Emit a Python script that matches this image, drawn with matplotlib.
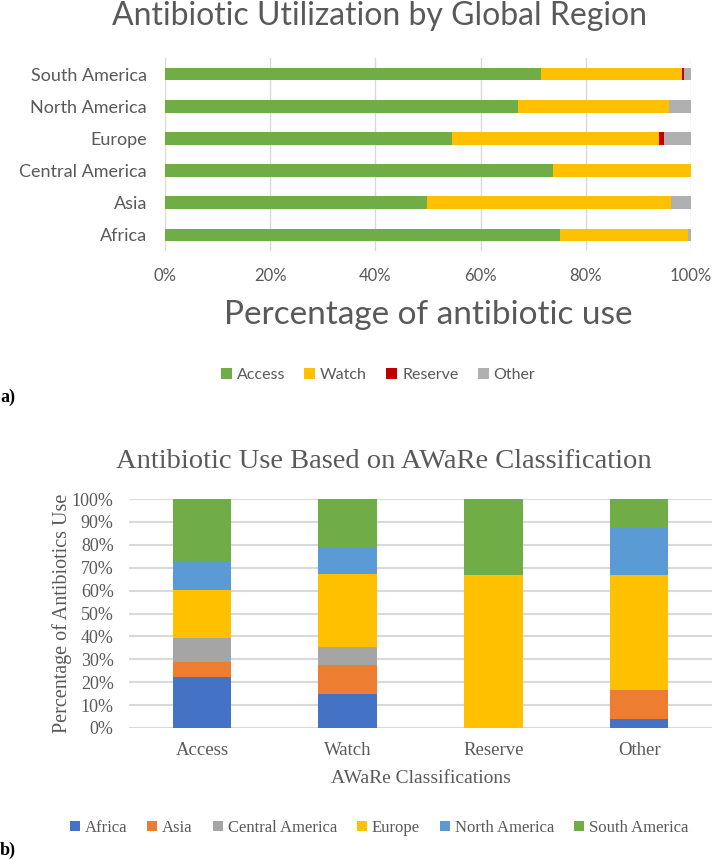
import matplotlib.pyplot as plt
import numpy as np

# top chart: share of each region's use by AWaRe group (%)
regions = ['Africa', 'Asia', 'Central America', 'Europe', 'North America', 'South America']
access = [75.1, 49.9, 73.8, 54.5, 67.2, 71.4]
watch = [24.4, 46.3, 26.2, 39.5, 28.6, 26.8]
reserve = [0.0, 0.0, 0.0, 0.9, 0.0, 0.5]
other = [0.5, 3.8, 0.0, 5.1, 4.2, 1.3]

# bottom chart: share of each AWaRe group by region (%)
classes = ['Access', 'Watch', 'Reserve', 'Other']
africa = [22.3, 14.8, 0.0, 3.8]
asia = [6.5, 12.9, 0.0, 12.6]
central_america = [10.5, 7.8, 0.0, 0.0]
europe = [21.0, 31.7, 66.7, 50.3]
north_america = [12.6, 11.3, 0.0, 20.8]
south_america = [27.1, 21.5, 33.3, 12.5]

W, H = 712, 860
fig = plt.figure(figsize=(W / 100, H / 100), dpi=100)
grey_txt = '#595959'
sans = ['Lato', 'DejaVu Sans']
serif = ['Liberation Serif', 'DejaVu Serif']

# ---------- a) ----------
ax1 = fig.add_axes([165 / W, 1 - 251 / H, 526 / W, 193 / H])
y = np.arange(len(regions))
left = np.zeros(len(regions))
for vals, col, name in [(access, '#70AD47', 'Access'), (watch, '#FFC000', 'Watch'),
                        (reserve, '#C00000', 'Reserve'), (other, '#B0B0B0', 'Other')]:
    ax1.barh(y, vals, left=left, height=0.39, color=col, label=name, zorder=3)
    left += np.array(vals)
ax1.set_xlim(0, 100)
ax1.set_ylim(-0.5, 5.5)
ax1.set_yticks(y)
ax1.set_yticklabels(regions, family=sans, fontsize=13, color=grey_txt)
ax1.set_xticks(range(0, 101, 20))
ax1.set_xticklabels([f'{v}%' for v in range(0, 101, 20)], family=sans, fontsize=12, color=grey_txt)
ax1.tick_params(length=0)
ax1.tick_params(axis='y', pad=13)
ax1.tick_params(axis='x', pad=12)
ax1.grid(axis='x', color='#D9D9D9', lw=1, zorder=0)
for s in ax1.spines.values():
    s.set_visible(False)
ax1.set_xlabel('Percentage of antibiotic use', family=sans, fontsize=24, color=grey_txt, labelpad=12)
fig.text(380 / W, 1 - 16 / H, 'Antibiotic Utilization by Global Region', family=sans,
         fontsize=23, color=grey_txt, ha='center', va='center')
ax1.legend(loc='center', bbox_to_anchor=(378 / W, 1 - 375 / H), bbox_transform=fig.transFigure,
           ncol=4, frameon=False, prop={'family': sans, 'size': 11.5}, labelcolor=grey_txt,
           handlelength=0.7, handleheight=0.7, handletextpad=0.3, columnspacing=1.2)
fig.text(0, 1 - 397 / H, 'a)', family=serif, fontsize=13, fontweight='bold', va='center')

# ---------- b) ----------
ax2 = fig.add_axes([129 / W, 1 - 728 / H, 583 / W, 229 / H])
x = np.arange(len(classes))
bottom = np.zeros(len(classes))
series = [(africa, '#4472C4', 'Africa'), (asia, '#ED7D31', 'Asia'),
          (central_america, '#A5A5A5', 'Central America'), (europe, '#FFC000', 'Europe'),
          (north_america, '#5B9BD5', 'North America'), (south_america, '#70AD47', 'South America')]
for vals, col, name in series:
    ax2.bar(x, vals, bottom=bottom, width=0.4, color=col, label=name, zorder=3)
    bottom += np.array(vals)
ax2.set_ylim(0, 100)
ax2.set_xlim(-0.5, 3.5)
ax2.set_yticks(range(0, 101, 10))
ax2.set_yticklabels([f'{v}%' for v in range(0, 101, 10)], family=serif, fontsize=13, color=grey_txt)
ax2.set_xticks(x)
ax2.set_xticklabels(classes, family=serif, fontsize=13.5, color=grey_txt)
ax2.tick_params(length=0)
ax2.tick_params(axis='y', pad=11)
ax2.tick_params(axis='x', pad=10)
ax2.grid(axis='y', color='#D9D9D9', lw=1.5, zorder=0)
for s in ax2.spines.values():
    s.set_visible(False)
ax2.set_ylabel('Percentage of Antibiotics Use', family=serif, fontsize=14.5, color=grey_txt, labelpad=0)
ax2.set_xlabel('AWaRe Classifications', family=serif, fontsize=14, color=grey_txt, labelpad=8)
fig.text(384 / W, 1 - 462 / H, 'Antibiotic Use Based on AWaRe Classification', family=serif,
         fontsize=20.5, color=grey_txt, ha='center', va='center')
ax2.legend(loc='center', bbox_to_anchor=(379 / W, 1 - 828 / H), bbox_transform=fig.transFigure,
           ncol=6, frameon=False, prop={'family': serif, 'size': 12}, labelcolor=grey_txt,
           handlelength=0.6, handleheight=0.6, handletextpad=0.3, columnspacing=1.2)
fig.text(0, 1 - 850 / H, 'b)', family=serif, fontsize=13, fontweight='bold', va='center')

fig.savefig('out.png', dpi=100)
